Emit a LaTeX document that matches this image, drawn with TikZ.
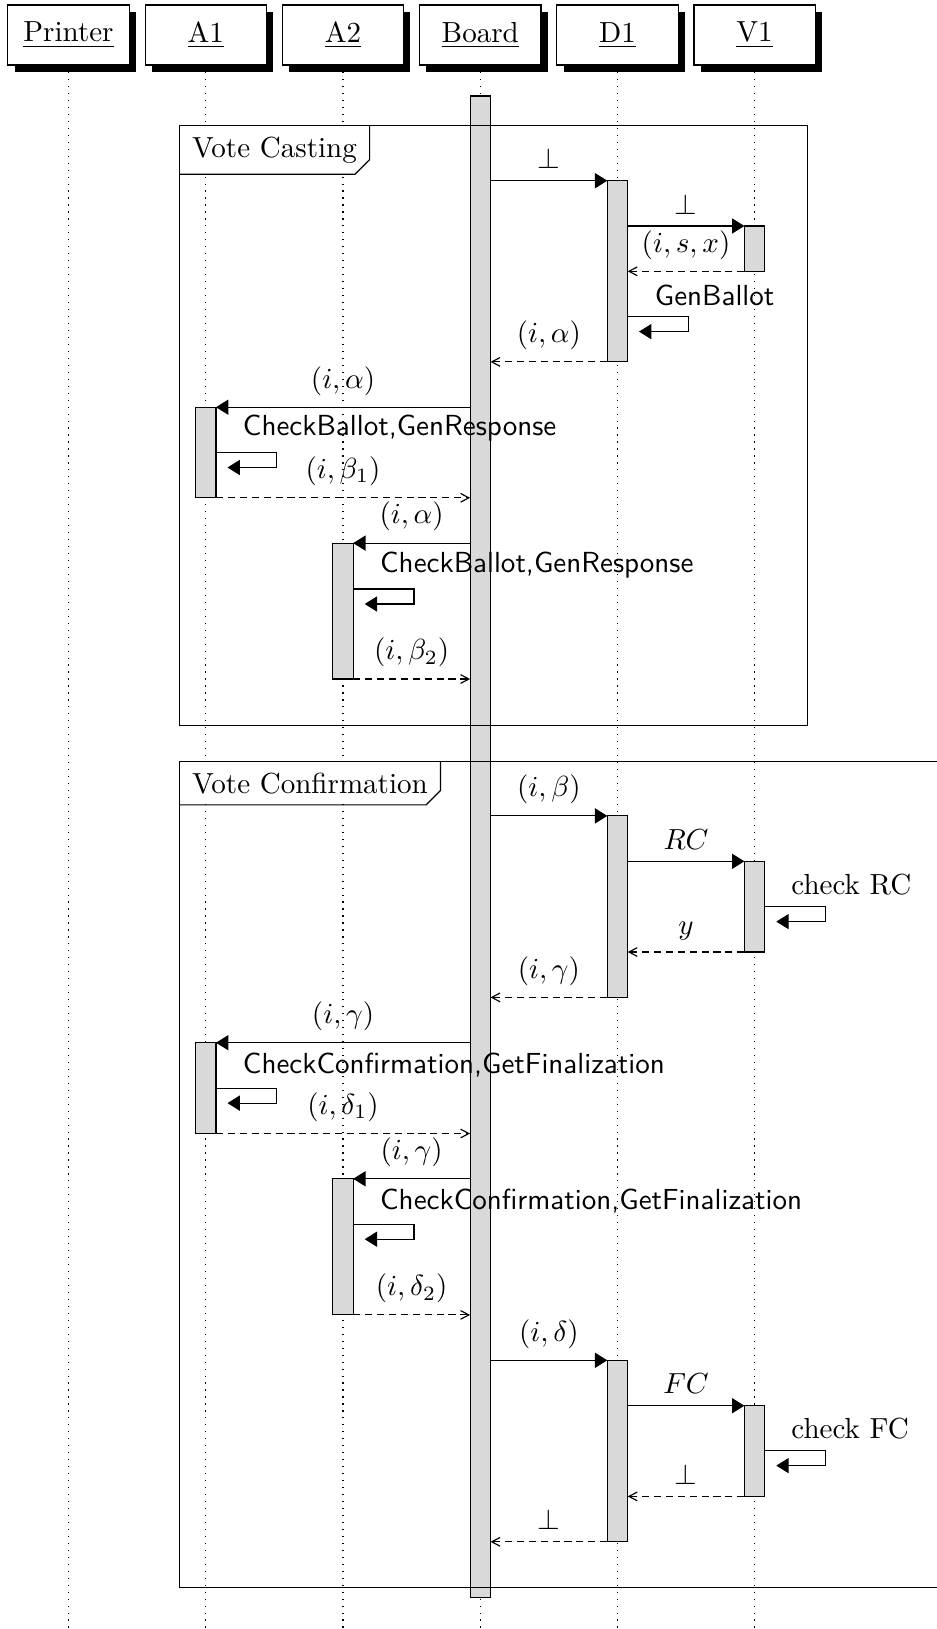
\documentclass[tikz,border=0pt]{standalone}
\usetikzlibrary{arrows.meta,fit,shadows}
\newcommand\actbar[4]{\node[bar, fit={(#2-10.2,#3)(#2+10.2,#4)}] (#1) {};}
\begin{document}
\begin{tikzpicture}[x=0.3443pt,y=-0.3443pt,
  thread/.style={draw, fill=white, minimum width=41.76pt, minimum height=20.66pt, inner sep=0pt, outer sep=0pt,
    drop shadow={shadow xshift=2.3pt,shadow yshift=-2.25pt,fill=black,opacity=1}},
  life/.style={dotted},
  bar/.style={draw, fill=black!15, inner sep=0pt, outer sep=0pt},
  call/.style={-{Triangle[length=4.25pt,width=5.2pt]}},
  ret/.style={dash pattern=on 2.45pt off 1.65pt, -{Straight Barb[length=2.85pt,width=3.0pt]}},
  lbl/.style={anchor=south, inner sep=3.9pt},
  selftxt/.style={anchor=south west, inner sep=0pt, font=\sffamily},
  selfrm/.style={anchor=south west, inner sep=0pt},
  framelbl/.style={anchor=north west, inner xsep=4.2pt, inner ysep=3.6pt, fill=white}
]
\useasboundingbox (0,0) rectangle (937,1629);
% thread heads
\node[thread] (printer) at (68.5,35) {\underline{Printer}};
\node[thread] (a1) at (205.8,35) {\underline{A1}};
\node[thread] (a2) at (343,35) {\underline{A2}};
\node[thread] (board) at (480.3,35) {\underline{Board}};
\node[thread] (d1) at (617.5,35) {\underline{D1}};
\node[thread] (v1) at (754.6,35) {\underline{V1}};
% lifelines
\foreach \t in {printer,a1,a2,board,d1,v1}
  \draw[life] (\t.south) -- (\t.south |- 0,1629);
% activation bars
\actbar{brd}{480.3}{96}{1597.7}
\actbar{d1a}{617.5}{180.7}{361.9}
\actbar{v1a}{754.6}{226}{271.3}
\actbar{a1a}{205.8}{407.2}{497.8}
\actbar{a2a}{343}{543.1}{679}
\actbar{d1b}{617.5}{815.9}{997.4}
\actbar{v1b}{754.6}{861.3}{952}
\actbar{a1b}{205.8}{1042.7}{1133.5}
\actbar{a2b}{343}{1178.8}{1314.9}
\actbar{d1c}{617.5}{1360.3}{1541.8}
\actbar{v1c}{754.6}{1405.7}{1496.4}
% frames
\draw (179.3,125.7) rectangle (807.3,725.7);
\node[framelbl] (fl1) at (179.3,125.7) {Vote Casting};
\draw (fl1.north east) -- ([yshift=5pt]fl1.south east) -- ([xshift=-5pt]fl1.south east) -- (fl1.south west);
\draw (945,761.7) -- (179.3,761.7) -- (179.3,1587.5) -- (945,1587.5);
\node[framelbl] (fl2) at (179.3,761.7) {Vote Confirmation};
\draw (fl2.north east) -- ([yshift=5pt]fl2.south east) -- ([xshift=-5pt]fl2.south east) -- (fl2.south west);
% Vote casting messages
\draw[call] (brd.east |- d1a.north) -- node[lbl]{$\bot$} (d1a.north west);
\draw[call] (d1a.east |- v1a.north) -- node[lbl]{$\bot$} (v1a.north west);
\draw[ret] (v1a.south west) -- node[lbl]{$(i,s,x)$} (d1a.east |- v1a.south);
\draw[call] (d1a.east |- 0,316.6) -- ++(60.6,0) -- ++(0,15) -- ++(-49.3,0);
\node[selftxt] (t1) at (654.3,306) {GenBallot};
\draw[ret] (d1a.south west) -- node[lbl]{$(i,\alpha)$} (brd.east |- d1a.south);
\draw[call] (brd.west |- a1a.north) -- node[lbl]{$(i,\alpha)$} (a1a.north east);
\draw[call] (a1a.east |- 0,452.5) -- ++(60.8,0) -- ++(0,15) -- ++(-49.3,0);
\node[selftxt] (t2) at (242.4,441.9) {CheckBallot,GenResponse};
\draw[ret] (a1a.south east) -- node[lbl]{$(i,\beta_1)$} (brd.west |- a1a.south);
\draw[call] (brd.west |- a2a.north) -- node[lbl]{$(i,\alpha)$} (a2a.north east);
\draw[call] (a2a.east |- 0,589) -- ++(60.8,0) -- ++(0,15) -- ++(-49.3,0);
\node[selftxt] (t3) at (379.6,578.4) {CheckBallot,GenResponse};
\draw[ret] (a2a.south east) -- node[lbl]{$(i,\beta_2)$} (brd.west |- a2a.south);
% Vote confirmation messages
\draw[call] (brd.east |- d1b.north) -- node[lbl]{$(i,\beta)$} (d1b.north west);
\draw[call] (d1b.east |- v1b.north) -- node[lbl]{$RC$} (v1b.north west);
\draw[call] (v1b.east |- 0,906.6) -- ++(60.8,0) -- ++(0,15) -- ++(-49.3,0);
\node[selfrm] (t4) at (790.9,896) {check RC};
\draw[ret] (v1b.south west) -- node[lbl]{$y$} (d1b.east |- v1b.south);
\draw[ret] (d1b.south west) -- node[lbl]{$(i,\gamma)$} (brd.east |- d1b.south);
\draw[call] (brd.west |- a1b.north) -- node[lbl]{$(i,\gamma)$} (a1b.north east);
\draw[call] (a1b.east |- 0,1088.1) -- ++(60.8,0) -- ++(0,15) -- ++(-49.3,0);
\node[selftxt] (t5) at (242.4,1077.5) {CheckConfirmation,GetFinalization};
\draw[ret] (a1b.south east) -- node[lbl]{$(i,\delta_1)$} (brd.west |- a1b.south);
\draw[call] (brd.west |- a2b.north) -- node[lbl]{$(i,\gamma)$} (a2b.north east);
\draw[call] (a2b.east |- 0,1224.2) -- ++(60.8,0) -- ++(0,15) -- ++(-49.3,0);
\node[selftxt] (t6) at (379.6,1213.6) {CheckConfirmation,GetFinalization};
\draw[ret] (a2b.south east) -- node[lbl]{$(i,\delta_2)$} (brd.west |- a2b.south);
\draw[call] (brd.east |- d1c.north) -- node[lbl]{$(i,\delta)$} (d1c.north west);
\draw[call] (d1c.east |- v1c.north) -- node[lbl]{$FC$} (v1c.north west);
\draw[call] (v1c.east |- 0,1450.6) -- ++(60.8,0) -- ++(0,15) -- ++(-49.3,0);
\node[selfrm] (t7) at (790.9,1440) {check FC};
\draw[ret] (v1c.south west) -- node[lbl]{$\bot$} (d1c.east |- v1c.south);
\draw[ret] (d1c.south west) -- node[lbl]{$\bot$} (brd.east |- d1c.south);
\end{tikzpicture}
\end{document}
